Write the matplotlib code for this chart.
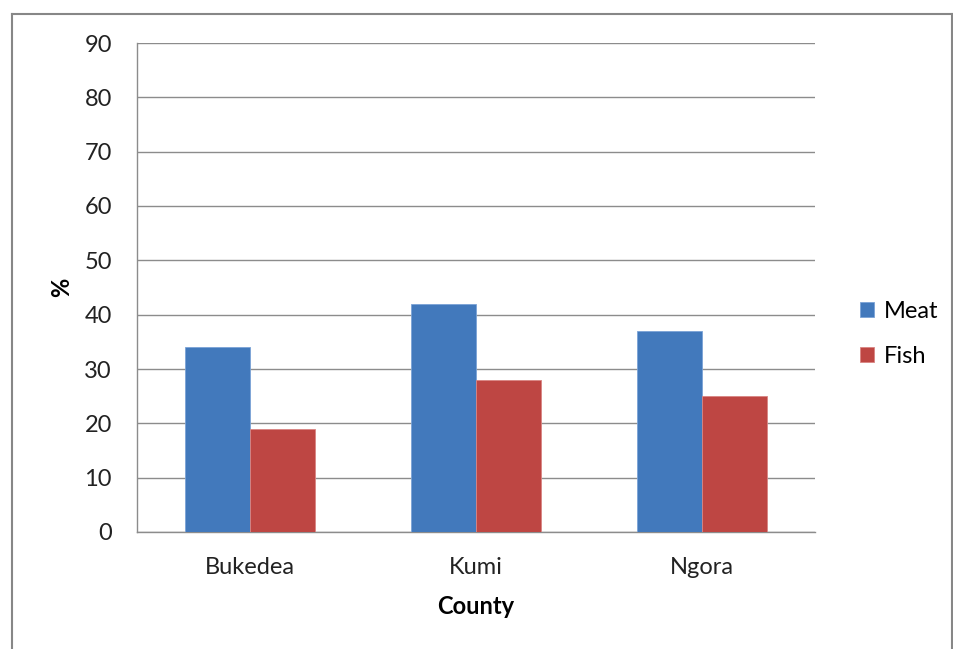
import numpy as np
import matplotlib.pyplot as plt
from matplotlib.lines import Line2D

# Data
counties = ["Bukedea", "Kumi", "Ngora"]
meat = [34, 42, 37]
fish = [19, 28, 25]
yticks = [0, 10, 20, 30, 40, 50, 60, 70, 80, 90]

plt.rcParams['font.family'] = ['Lato', 'DejaVu Sans']
FS = 17

fig = plt.figure(figsize=(9.54, 6.49), dpi=100)
ax = fig.add_axes([137 / 954, 117 / 649, 678 / 954, 489 / 649])

x = np.arange(len(counties))
w = 1 / 3.5
ax.bar(x - w / 2, meat, w, color='#4279bc', edgecolor='#7aa3d6', linewidth=0.6,
       label='Meat', zorder=3)
ax.bar(x + w / 2, fish, w, color='#be4643', edgecolor='#d98583', linewidth=0.6,
       label='Fish', zorder=3)

ax.set_xlim(-0.5, 2.5)
ax.set_ylim(0, 90)
ax.set_yticks(yticks)
ax.set_xticks(x)
ax.set_xticklabels(counties)
ax.tick_params(length=0, labelsize=FS, colors='#222222')
ax.tick_params(axis='y', pad=18)
ax.tick_params(axis='x', pad=18)
ax.grid(axis='y', color='#8c8c8c', linewidth=1, zorder=0)

for s in ['top', 'right']:
    ax.spines[s].set_visible(False)
for s in ['left', 'bottom']:
    ax.spines[s].set_color('#8c8c8c')
    ax.spines[s].set_linewidth(1)

ax.set_xlabel('County', fontsize=FS, fontweight='bold', labelpad=12)
ax.set_ylabel('%', fontsize=FS, fontweight='bold', labelpad=8)

ax.legend(loc='center left', bbox_to_anchor=(1.035, 0.405), frameon=False,
          fontsize=FS, handlelength=0.6, handleheight=0.6, handletextpad=0.4,
          labelspacing=1.0)

# outer chart border (left, top, right visible)
c = '#878787'
fig.add_artist(Line2D([12 / 954, 12 / 954], [0, 1 - 14 / 649], color=c, lw=1.5))
fig.add_artist(Line2D([12 / 954, 952 / 954], [1 - 14 / 649, 1 - 14 / 649], color=c, lw=1.5))
fig.add_artist(Line2D([952 / 954, 952 / 954], [0, 1 - 14 / 649], color=c, lw=1.5))

fig.savefig('out.png', dpi=100)
